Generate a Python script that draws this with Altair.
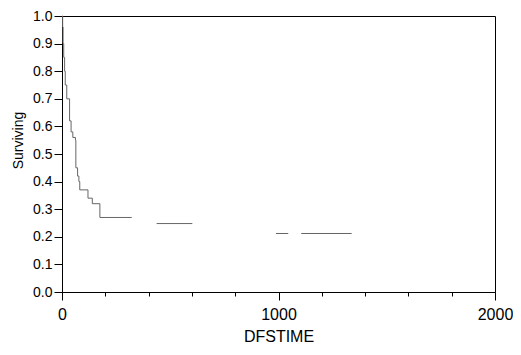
import altair as alt
import pandas as pd

seg_a_time = [0, 3, 5, 8, 12, 15, 22, 35, 42, 50, 62, 64, 72, 78, 82, 120, 140, 175, 322]
seg_a_surv = [1.0, 0.96, 0.90, 0.85, 0.80, 0.75, 0.70, 0.62, 0.58, 0.56, 0.55, 0.45, 0.42, 0.40, 0.37, 0.34, 0.32, 0.27, 0.27]
seg_b_time = [437, 602]
seg_b_surv = [0.248, 0.248]
seg_c1_time = [988, 1045]
seg_c1_surv = [0.212, 0.212]
seg_c2_time = [1105, 1338]
seg_c2_surv = [0.212, 0.212]

rows = []
for name, ts, ss in [("a", seg_a_time, seg_a_surv), ("b", seg_b_time, seg_b_surv),
                     ("c1", seg_c1_time, seg_c1_surv), ("c2", seg_c2_time, seg_c2_surv)]:
    for t, s in zip(ts, ss):
        rows.append({"seg": name, "DFSTIME": t, "Surviving": s})
df = pd.DataFrame(rows)

x_ticks = list(range(0, 2001, 200))
y_ticks = [round(i * 0.1, 1) for i in range(11)]

font = "Liberation Sans"

chart = alt.Chart(df).mark_line(interpolate="step-after", color="#666666", strokeWidth=1).encode(
    x=alt.X("DFSTIME:Q", scale=alt.Scale(domain=[0, 2000], nice=False),
            axis=alt.Axis(values=x_ticks, labelExpr="datum.value % 1000 === 0 ? datum.label : ''",
                          tickSize={"condition": {"test": "datum.value % 1000 === 0", "value": 8}, "value": 4},
                          grid=False, labelFontSize=16, titleFontSize=16, labelPadding=6,
                          titlePadding=6, labelFlush=False, format="d")),
    y=alt.Y("Surviving:Q", scale=alt.Scale(domain=[0, 1], nice=False),
            axis=alt.Axis(values=y_ticks, format=".1f", grid=False, tickSize=8,
                          labelFontSize=14, titleFontSize=14, labelPadding=2,
                          titleX=-44, titleY=124, titleBaseline="middle", labelFlush=False)),
    detail="seg:N",
).properties(
    width=433, height=276,
    autosize=alt.AutoSizeParams(type="none"),
    padding={"left": 54, "top": 8, "right": 18, "bottom": 56},
).configure_view(stroke="black", strokeWidth=1).configure_axis(
    labelFont=font, titleFont=font, labelColor="black", titleColor="black",
    domainColor="black", tickColor="black", titleFontWeight="normal",
)

chart.save("out.html", embed_options={"renderer": "svg", "actions": False})
